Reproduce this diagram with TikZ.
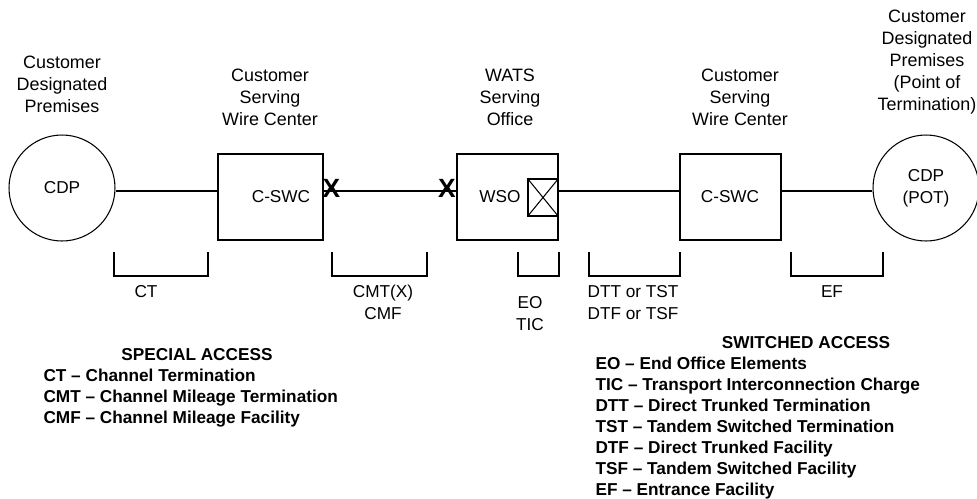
\documentclass[tikz,border=0pt]{standalone}
\usepackage{fontspec}
\setmainfont{Liberation Sans}
\usetikzlibrary{positioning}

\begin{document}
\begin{tikzpicture}[x=0.02cm, y=-0.02cm, line width=0.6pt,
  txt/.style={font=\fontsize{9.8}{12.5}\selectfont, align=center, inner sep=0pt},
  head/.style={font=\fontsize{10.2}{12.5}\selectfont, align=center, inner sep=0pt},
  site/.style={circle, draw, minimum size=2.12cm, inner sep=0pt, txt},
  office/.style={rectangle, draw, minimum height=1.72cm, inner sep=0pt},
  xsign/.style={font=\bfseries\fontsize{15}{15}\selectfont, inner sep=0pt},
  keyline/.style={font=\bfseries\fontsize{9.8}{11.9}\selectfont, inner sep=0pt, anchor=base west}]
\useasboundingbox (0,0) rectangle (977,498);

% Sites and offices
\node[site] (cdpL) at (62,188) {CDP};
\node[office, minimum width=2.1cm] (swcA) at (270.5,197) {};
\node[office, minimum width=2.02cm] (wso) at (507.5,197) {};
\node[office, minimum width=2.02cm] (swcB) at (730.5,197) {};
\node[site] (cdpR) at (926,188) {CDP\\(POT)};

\node[txt] (swcAtxt) at (281,197) {C-SWC};
\node[txt] (wsotxt) at (500,197) {WSO};
\node[txt] (swcBtxt) at (730,197) {C-SWC};

% Switch inside the WSO
\node[draw, minimum width=0.6cm, minimum height=0.74cm, inner sep=0pt, anchor=east] (sw) at (wso.east |- 0,197.5) {};
\draw (sw.north west) -- (sw.south east) (sw.south west) -- (sw.north east);

% Facilities
\coordinate (lvl) at (0,191);
\draw (cdpL.east |- lvl) -- (swcA.west |- lvl);
\draw (swcA.east |- lvl) -- (wso.west |- lvl);
\draw (sw.east |- lvl) -- (swcB.west |- lvl);
\draw (swcB.east |- lvl) -- (cdpR.west |- lvl);

\node[xsign] (xA) at (331.5,188) {X};
\node[xsign] (xB) at (447,188) {X};

% Headings
\node[head] (lblL) at (62,84) {Customer\\Designated\\Premises};
\node[head] (lblA) at (270,97) {Customer\\Serving\\Wire Center};
\node[head] (lblW) at (510,97) {WATS\\Serving\\Office};
\node[head] (lblB) at (740,97) {Customer\\Serving\\Wire Center};
\node[head] (lblR) at (927,62) {Customer\\Designated\\Premises\\(Point of\\Termination)};

% Rate elements
\foreach \a/\b in {114/208, 332/427, 518/559, 589/680, 791/883} {
    \draw (\a,252) |- (\b,276) -- (\b,252);
}
\node[txt] (ct) at (146,292) {CT};
\node[txt] (cmt) at (383,302.5) {CMT(X)\\CMF};
\node[txt] (eo) at (530,314) {EO\\TIC};
\node[txt] (dtt) at (633,302.5) {DTT or TST\\DTF or TSF};
\node[txt] (ef) at (832,292) {EF};

% Legends
\node[keyline, anchor=base] (saHead) at (197,360) {SPECIAL ACCESS};
\foreach \t [count=\i from 0] in {CT -- Channel Termination, CMT -- Channel Mileage Termination, CMF -- Channel Mileage Facility} {
    \node[keyline] (sa\i) at (43,381+21*\i) {\t};
}
\node[keyline, anchor=base] (swHead) at (806,348) {SWITCHED ACCESS};
\foreach \t [count=\i from 0] in {EO -- End Office Elements, TIC -- Transport Interconnection Charge, DTT -- Direct Trunked Termination, TST -- Tandem Switched Termination, DTF -- Direct Trunked Facility, TSF -- Tandem Switched Facility, EF -- Entrance Facility} {
    \node[keyline] (sw\i) at (595,369+21*\i) {\t};
}
\end{tikzpicture}
\end{document}
